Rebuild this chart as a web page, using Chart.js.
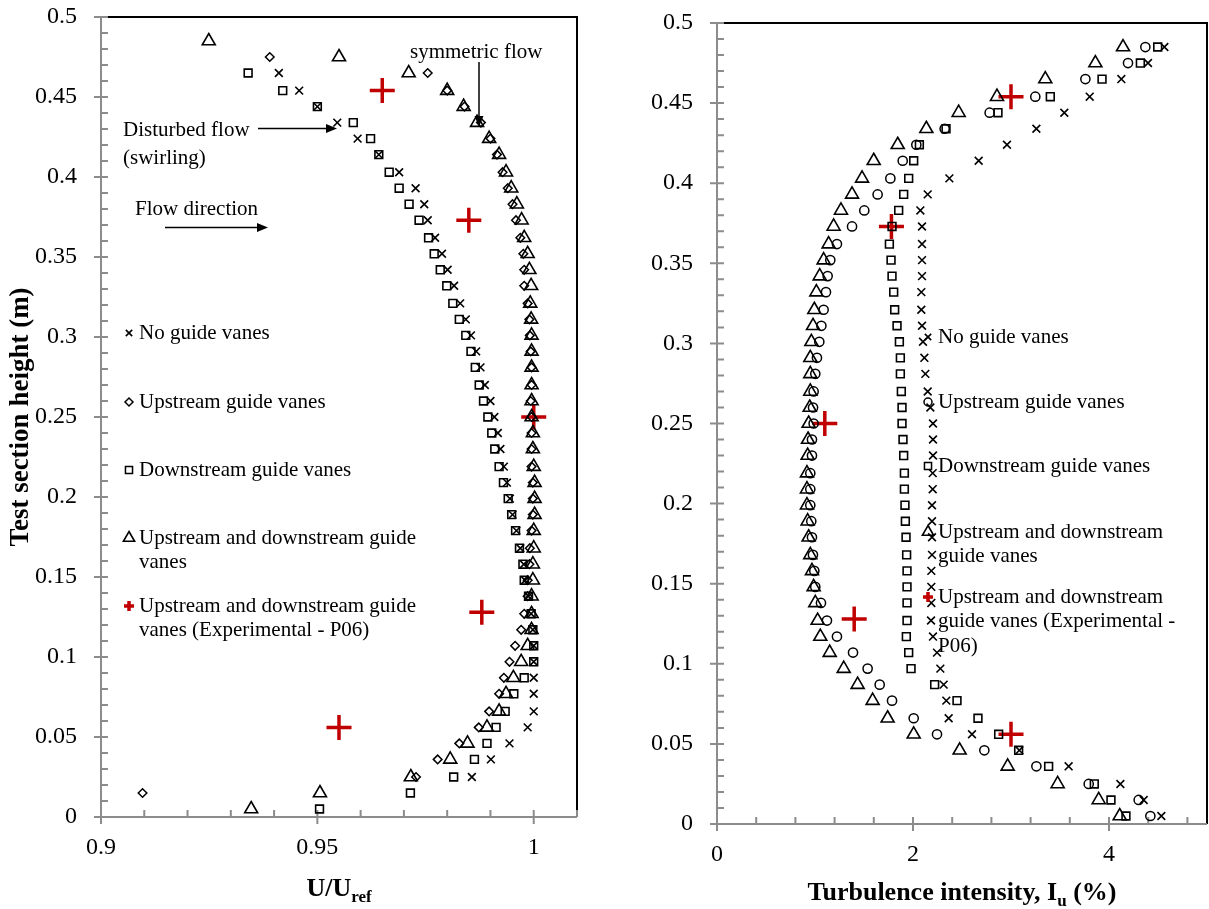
<!DOCTYPE html>
<html>
<head>
<meta charset="utf-8">
<title>Velocity and turbulence profiles</title>
<script src="https://cdn.jsdelivr.net/npm/chart.js@4.4.1/dist/chart.umd.min.js"></script>
<style>
  html, body { margin: 0; background: #fff; overflow: hidden; }
  canvas { position: absolute; top: 0; }
  #velChart { left: 0; }
  #tiChart { left: 600px; }
</style>
</head>
<body>
<canvas id="velChart" width="600" height="909"></canvas>
<canvas id="tiChart" width="609" height="909"></canvas>
<script>
// measurement heights (m), bottom to top, shared by every profile
const heights = [0.005, 0.015, 0.025, 0.036, 0.046, 0.056, 0.066, 0.077, 0.087, 0.097,
  0.107, 0.117, 0.127, 0.138, 0.148, 0.158, 0.168, 0.179, 0.189, 0.199,
  0.209, 0.219, 0.230, 0.240, 0.250, 0.260, 0.270, 0.281, 0.291, 0.301,
  0.311, 0.321, 0.332, 0.342, 0.352, 0.362, 0.373, 0.383, 0.393, 0.403,
  0.414, 0.424, 0.434, 0.444, 0.454, 0.465, 0.475, 0.485];

const seriesNames = ['No guide vanes', 'Upstream guide vanes', 'Downstream guide vanes',
  'Upstream and downstream guide vanes', 'Upstream and downstream guide vanes (Experimental - P06)'];

// U/Uref
const uNoVanes = [null, null, 0.9857, 0.9901, 0.9944, 0.9986, 1.0, 1.0, 1.0, 1.0,
  1.0, 0.9998, 0.9994, 0.9988, 0.9980, 0.9977, 0.9969, 0.9960, 0.9951, 0.9945,
  0.9938, 0.9931, 0.9923, 0.9917, 0.9909, 0.9900, 0.9887, 0.9877, 0.9867, 0.9855,
  0.9843, 0.9830, 0.9816, 0.9801, 0.9788, 0.9772, 0.9755, 0.9747, 0.9727, 0.9689,
  0.9642, 0.9593, 0.9546, 0.9500, 0.9458, 0.9411, null, null];
const uUpstream = [null, 0.9096, 0.9728, 0.9778, 0.9828, 0.9873, 0.9897, 0.9920, 0.9931, 0.9944,
  0.9957, 0.9971, 0.9978, 0.9986, 0.9986, 0.9990, 0.9991, 0.9995, 0.9998, 0.9998,
  0.9998, 0.9995, 0.9995, 0.9995, 0.9995, 0.9993, 0.9995, 0.9995, 0.9993, 0.9991,
  0.9990, 0.9986, 0.9978, 0.9978, 0.9976, 0.9969, 0.9959, 0.9951, 0.9940, 0.9928,
  0.9915, 0.9900, 0.9878, 0.9840, 0.9800, 0.9755, 0.9390, null];
const uDownstream = [0.9505, 0.9715, 0.9815, 0.9863, 0.9892, 0.9913, 0.9934, 0.9954, 0.9978, 1.0,
  1.0, 0.9998, 0.9994, 0.9988, 0.9978, 0.9975, 0.9967, 0.9958, 0.9949, 0.9941,
  0.9930, 0.9920, 0.9910, 0.9903, 0.9894, 0.9884, 0.9874, 0.9865, 0.9855, 0.9843,
  0.9828, 0.9813, 0.9799, 0.9784, 0.9770, 0.9757, 0.9735, 0.9712, 0.9689, 0.9666,
  0.9642, 0.9623, 0.9583, 0.9500, 0.9420, 0.9340, null, null];
const uBoth = [0.9347, 0.9506, 0.9716, 0.9807, 0.9847, 0.9892, 0.9920, 0.9936, 0.9953, 0.9971,
  0.9986, 0.9995, 0.9995, 0.9995, 0.9998, 0.9998, 1.0, 1.0, 1.0002, 1.0002,
  1.0002, 1.0, 0.9998, 0.9998, 0.9995, 0.9995, 0.9995, 0.9995, 0.9995, 0.9995,
  0.9994, 0.9992, 0.9994, 0.9990, 0.9986, 0.9978, 0.9972, 0.9961, 0.9948, 0.9936,
  0.9920, 0.9897, 0.9869, 0.9838, 0.9800, 0.9711, 0.9550, 0.9249];

// turbulence intensity (%)
const tiNoVanes = [4.534, 4.354, 4.116, 3.588, 3.085, 2.602, 2.364, 2.340, 2.313, 2.279,
  2.245, 2.204, 2.184, 2.187, 2.187, 2.187, 2.194, 2.194, 2.194, 2.194,
  2.201, 2.201, 2.204, 2.204, 2.204, 2.177, 2.150, 2.126, 2.116, 2.102,
  2.092, 2.085, 2.085, 2.092, 2.092, 2.092, 2.092, 2.075, 2.150, 2.371,
  2.670, 2.959, 3.259, 3.544, 3.803, 4.126, 4.398, 4.565];
const tiUpstream = [4.422, 4.303, 3.793, 3.259, 2.728, 2.245, 2.007, 1.786, 1.660, 1.537,
  1.388, 1.224, 1.122, 1.061, 1.003, 0.993, 0.979, 0.969, 0.962, 0.952,
  0.952, 0.952, 0.969, 0.969, 0.986, 0.980, 0.986, 1.003, 1.020, 1.044,
  1.065, 1.088, 1.112, 1.129, 1.156, 1.224, 1.378, 1.503, 1.639, 1.769,
  1.895, 2.034, 2.323, 2.782, 3.248, 3.759, 4.194, 4.371];
const tiDownstream = [4.173, 4.020, 3.850, 3.384, 3.078, 2.874, 2.663, 2.449, 2.221, 1.980,
  1.956, 1.932, 1.939, 1.939, 1.939, 1.939, 1.935, 1.929, 1.922, 1.918,
  1.912, 1.912, 1.905, 1.898, 1.888, 1.888, 1.881, 1.871, 1.871, 1.861,
  1.837, 1.813, 1.803, 1.786, 1.776, 1.759, 1.786, 1.854, 1.905, 1.956,
  2.007, 2.065, 2.337, 2.867, 3.401, 3.929, 4.320, 4.497];
const tiBoth = [4.109, 3.895, 3.476, 2.966, 2.476, 2.007, 1.741, 1.588, 1.435, 1.293,
  1.150, 1.054, 1.027, 1.003, 0.986, 0.969, 0.952, 0.935, 0.925, 0.918,
  0.918, 0.918, 0.925, 0.929, 0.935, 0.946, 0.952, 0.952, 0.952, 0.963,
  0.980, 0.993, 1.014, 1.048, 1.088, 1.139, 1.190, 1.265, 1.378, 1.480,
  1.599, 1.844, 2.136, 2.466, 2.857, 3.350, 3.861, 4.143];

// experimental P06
const expHeights = [0.056, 0.128, 0.250, 0.373, 0.454];
const expU = [0.955, 0.988, 1.000, 0.985, 0.965];
const expTi = [3.00, 1.40, 1.10, 1.78, 3.00];

// tick labels
const heightTicks = [0, 0.05, 0.1, 0.15, 0.2, 0.25, 0.3, 0.35, 0.4, 0.45, 0.5];
const uTicks = [0.9, 0.95, 1];
const tiTicks = [0, 2, 4];

const FONT = '"Liberation Serif", "Times New Roman", serif';
const AXIS_GREY = '#8c8c8c';
const RED = '#c00000';

function pts(xs, ys) {
  return xs.map((v, i) => v == null ? null : { x: v, y: ys[i] }).filter(p => p);
}

function markerDataset(label, data, style, radius, color, width) {
  return {
    label: label, data: data, showLine: false,
    pointStyle: style, pointRadius: radius, pointHoverRadius: radius,
    pointBorderColor: color, pointBackgroundColor: 'rgba(0,0,0,0)',
    pointBorderWidth: width, borderColor: color, backgroundColor: 'rgba(0,0,0,0)'
  };
}

function drawMarker(ctx, style, x, y, r, color, lw) {
  ctx.save();
  ctx.strokeStyle = color;
  ctx.lineWidth = lw;
  ctx.beginPath();
  const d = r * Math.SQRT1_2;
  if (style === 'crossRot') {
    ctx.moveTo(x - d, y - d); ctx.lineTo(x + d, y + d);
    ctx.moveTo(x - d, y + d); ctx.lineTo(x + d, y - d);
  } else if (style === 'cross') {
    ctx.moveTo(x - r, y); ctx.lineTo(x + r, y);
    ctx.moveTo(x, y - r); ctx.lineTo(x, y + r);
  } else if (style === 'rect') {
    ctx.rect(x - d, y - d, 2 * d, 2 * d);
  } else if (style === 'rectRot') {
    ctx.moveTo(x, y - r); ctx.lineTo(x + r, y); ctx.lineTo(x, y + r); ctx.lineTo(x - r, y); ctx.closePath();
  } else if (style === 'triangle') {
    ctx.moveTo(x, y - r); ctx.lineTo(x + 0.866 * r, y + 0.5 * r); ctx.lineTo(x - 0.866 * r, y + 0.5 * r); ctx.closePath();
  } else if (style === 'circle') {
    ctx.arc(x, y, r, 0, Math.PI * 2);
  }
  ctx.stroke();
  ctx.restore();
}

function arrow(ctx, x1, y1, x2, y2) {
  const ang = Math.atan2(y2 - y1, x2 - x1);
  const len = 11, half = 4.5;
  ctx.save();
  ctx.strokeStyle = '#000';
  ctx.fillStyle = '#000';
  ctx.lineWidth = 1.5;
  ctx.beginPath();
  ctx.moveTo(x1, y1);
  ctx.lineTo(x2 - Math.cos(ang) * len, y2 - Math.sin(ang) * len);
  ctx.stroke();
  ctx.beginPath();
  ctx.moveTo(x2, y2);
  ctx.lineTo(x2 - Math.cos(ang) * len - Math.sin(ang) * half, y2 - Math.sin(ang) * len + Math.cos(ang) * half);
  ctx.lineTo(x2 - Math.cos(ang) * len + Math.sin(ang) * half, y2 - Math.sin(ang) * len - Math.cos(ang) * half);
  ctx.closePath();
  ctx.fill();
  ctx.restore();
}

// text pieces with optional subscript: [text, isSub]
function drawRich(ctx, parts, cx, baseline, size) {
  const subSize = Math.round(size * 0.65);
  let total = 0;
  parts.forEach(p => {
    ctx.font = 'bold ' + (p[1] ? subSize : size) + 'px ' + FONT;
    total += ctx.measureText(p[0]).width;
  });
  let x = cx - total / 2;
  parts.forEach(p => {
    ctx.font = 'bold ' + (p[1] ? subSize : size) + 'px ' + FONT;
    ctx.fillText(p[0], x, p[1] ? baseline + 6 : baseline);
    x += ctx.measureText(p[0]).width;
  });
}

// axes frame: grey axes with in/out ticks, black top and right border
const framePlugin = {
  id: 'frame',
  beforeDatasetsDraw(chart, args, opts) {
    const { ctx, chartArea: a, scales: { x, y } } = chart;
    ctx.save();
    ctx.lineWidth = 2;
    ctx.strokeStyle = '#000';
    ctx.beginPath();
    ctx.moveTo(a.left, a.top); ctx.lineTo(a.right, a.top); ctx.lineTo(a.right, a.bottom);
    ctx.stroke();
    ctx.strokeStyle = AXIS_GREY;
    ctx.beginPath();
    ctx.moveTo(a.left, a.top); ctx.lineTo(a.left, a.bottom); ctx.lineTo(a.right, a.bottom);
    const isMajor = (scale, v) => scale.ticks.some(t => Math.abs(t.value - v) < 1e-6);
    const nx = Math.round((x.max - x.min) / opts.xMinor);
    for (let i = 0; i <= nx; i++) {
      const v = x.min + i * opts.xMinor;
      const px = x.getPixelForValue(v);
      ctx.moveTo(px, a.bottom - 7);
      ctx.lineTo(px, a.bottom + (isMajor(x, v) ? 7 : 0));
    }
    const ny = Math.round((y.max - y.min) / opts.yMinor);
    for (let i = 0; i <= ny; i++) {
      const v = y.min + i * opts.yMinor;
      const py = y.getPixelForValue(v);
      ctx.moveTo(a.left + 7, py);
      ctx.lineTo(a.left - (isMajor(y, v) ? 7 : 0), py);
    }
    ctx.stroke();
    ctx.restore();
  },
  afterDraw(chart, args, opts) {
    const { ctx, chartArea: a } = chart;
    ctx.save();
    ctx.fillStyle = '#000';
    ctx.textBaseline = 'alphabetic';
    drawRich(ctx, opts.xTitle, (a.left + a.right) / 2, opts.xTitleBaseline, 26);
    if (opts.yTitle) {
      ctx.save();
      ctx.translate(opts.yTitleX, (a.top + a.bottom) / 2);
      ctx.rotate(-Math.PI / 2);
      ctx.font = 'bold 27px ' + FONT;
      ctx.textAlign = 'center';
      ctx.fillText(opts.yTitle, 0, 0);
      ctx.restore();
    }
    // legend
    ctx.font = '21px ' + FONT;
    ctx.textBaseline = 'middle';
    ctx.textAlign = 'left';
    opts.legend.forEach(item => {
      drawMarker(ctx, item.style, opts.legendX, item.y, item.r, item.color, item.lw);
      item.lines.forEach((line, k) => {
        ctx.fillText(line, opts.legendX + 10, item.y + k * opts.lineGap);
      });
    });
    // annotations
    (opts.notes || []).forEach(n => ctx.fillText(n.text, n.x, n.y));
    (opts.arrows || []).forEach(ar => arrow(ctx, ar[0], ar[1], ar[2], ar[3]));
    ctx.restore();
  }
};

function linearScale(min, max, tickValues, size, isX) {
  return {
    type: 'linear', min: min, max: max,
    grid: { display: false, drawTicks: false },
    border: { display: false },
    ticks: {
      color: '#000', font: { family: FONT, size: 24 }, padding: isX ? 16 : 24,
      autoSkip: false,
      callback: v => String(Math.round(v * 100) / 100)
    },
    afterBuildTicks: axis => { axis.ticks = tickValues.map(v => ({ value: v })); },
    afterFit: axis => {
      axis.paddingTop = 0; axis.paddingBottom = 0;
      axis.paddingLeft = 0; axis.paddingRight = 0;
      if (isX) axis.height = size; else axis.width = size;
    }
  };
}

const velChart = new Chart(document.getElementById('velChart'), {
  type: 'scatter',
  data: {
    datasets: [
      markerDataset(seriesNames[0], pts(uNoVanes, heights), 'crossRot', 5.5, '#000', 1.6),
      markerDataset(seriesNames[1], pts(uUpstream, heights), 'rectRot', 4.3, '#000', 1.5),
      markerDataset(seriesNames[2], pts(uDownstream, heights), 'rect', 5.5, '#000', 1.6),
      markerDataset(seriesNames[3], pts(uBoth, heights), 'triangle', 7.5, '#000', 1.6),
      markerDataset(seriesNames[4], pts(expU, expHeights), 'cross', 12.5, RED, 3.5)
    ]
  },
  options: {
    responsive: false, animation: false, devicePixelRatio: 1,
    layout: { autoPadding: false, padding: { left: 0, top: 17, right: 23, bottom: 0 } },
    scales: {
      x: linearScale(0.9, 1.01, uTicks, 92, true),
      y: linearScale(0, 0.5, heightTicks, 101, false)
    },
    plugins: {
      legend: { display: false }, tooltip: { enabled: false },
      frame: {
        xMinor: 0.01, yMinor: 0.01,
        xTitle: [['U/U', false], ['ref', true]], xTitleBaseline: 896,
        yTitle: 'Test section height (m)', yTitleX: 28,
        legendX: 129, lineGap: 24.5,
        legend: [
          { style: 'crossRot', r: 4.5, color: '#000', lw: 1.6, y: 333, lines: ['No guide vanes'] },
          { style: 'rectRot', r: 4, color: '#000', lw: 1.5, y: 402, lines: ['Upstream guide vanes'] },
          { style: 'rect', r: 5, color: '#000', lw: 1.5, y: 470, lines: ['Downstream guide vanes'] },
          { style: 'triangle', r: 6.5, color: '#000', lw: 1.6, y: 538, lines: ['Upstream and downstream guide', 'vanes'] },
          { style: 'cross', r: 5, color: RED, lw: 3.5, y: 606, lines: ['Upstream and downstream guide', 'vanes (Experimental - P06)'] }
        ],
        notes: [
          { text: 'symmetric flow', x: 410, y: 52 },
          { text: 'Disturbed flow', x: 123, y: 130 },
          { text: '(swirling)', x: 123, y: 158 },
          { text: 'Flow direction', x: 135, y: 209 }
        ],
        arrows: [[479, 62, 479, 127], [258, 128.5, 337, 128.5], [165, 227.5, 268, 227.5]]
      }
    }
  },
  plugins: [framePlugin]
});

const tiChart = new Chart(document.getElementById('tiChart'), {
  type: 'scatter',
  data: {
    datasets: [
      markerDataset(seriesNames[0], pts(tiNoVanes, heights), 'crossRot', 5.5, '#000', 1.6),
      markerDataset(seriesNames[1], pts(tiUpstream, heights), 'circle', 4.6, '#000', 1.5),
      markerDataset(seriesNames[2], pts(tiDownstream, heights), 'rect', 5.5, '#000', 1.6),
      markerDataset(seriesNames[3], pts(tiBoth, heights), 'triangle', 7.5, '#000', 1.6),
      markerDataset(seriesNames[4], pts(expTi, expHeights), 'cross', 12.5, RED, 3.5)
    ]
  },
  options: {
    responsive: false, animation: false, devicePixelRatio: 1,
    layout: { autoPadding: false, padding: { left: 0, top: 23, right: 2, bottom: 0 } },
    scales: {
      x: linearScale(0, 5, tiTicks, 85, true),
      y: linearScale(0, 0.5, heightTicks, 117, false)
    },
    plugins: {
      legend: { display: false }, tooltip: { enabled: false },
      frame: {
        xMinor: 0.4, yMinor: 0.01,
        xTitle: [['Turbulence intensity, I', false], ['u', true], [' (%)', false]], xTitleBaseline: 900,
        legendX: 328, lineGap: 24.7,
        legend: [
          { style: 'crossRot', r: 4.5, color: '#000', lw: 1.6, y: 337, lines: ['No guide vanes'] },
          { style: 'circle', r: 4, color: '#000', lw: 1.5, y: 402, lines: ['Upstream guide vanes'] },
          { style: 'rect', r: 5, color: '#000', lw: 1.5, y: 466, lines: ['Downstream guide vanes'] },
          { style: 'triangle', r: 6.5, color: '#000', lw: 1.6, y: 532, lines: ['Upstream and downstream', 'guide vanes'] },
          { style: 'cross', r: 5, color: RED, lw: 3.5, y: 597, lines: ['Upstream and downstream', 'guide vanes (Experimental -', 'P06)'] }
        ]
      }
    }
  },
  plugins: [framePlugin]
});
</script>
</body>
</html>
